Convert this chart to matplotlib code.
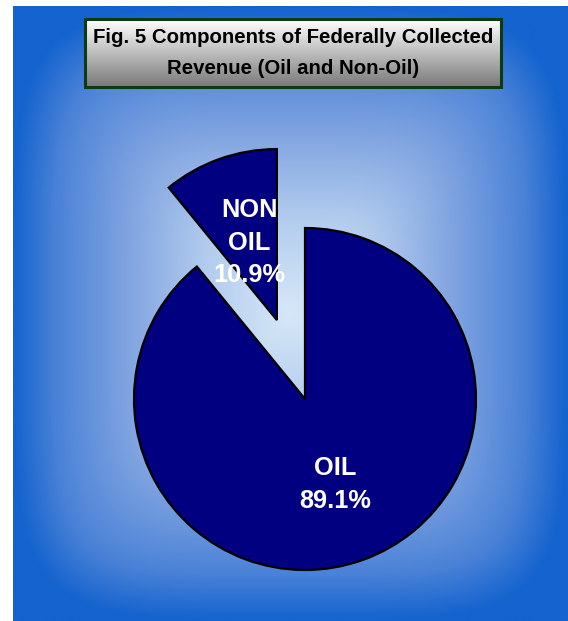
import numpy as np
import matplotlib
matplotlib.use("Agg")
import matplotlib.pyplot as plt
from matplotlib.colors import LinearSegmentedColormap
from matplotlib.patches import Rectangle

# ---- data ----
categories = ["NON\nOIL", "OIL"]
shares = [10.9, 89.1]
explode_frac = [0.49, 0.0]
title_text = "Fig. 5 Components of Federally Collected\nRevenue (Oil and Non-Oil)"

W, H = 568, 621
fig = plt.figure(figsize=(W / 100, H / 100), dpi=100)
fig.patch.set_facecolor("white")

ax = fig.add_axes([0, 0, 1, 1])
ax.set_xlim(0, W)
ax.set_ylim(0, H)
ax.axis("off")

# background panel: soft rectangular "from centre" gradient
x0, x1, ytop, ybot = 13, 568, 6, 621
cx, cy = (x0 + x1) / 2, (ytop + ybot) / 2
nx, ny = 400, 440
xs = np.linspace(x0, x1, nx)
ys = np.linspace(ytop, ybot, ny)
X, Y = np.meshgrid(xs, ys)
u = np.abs(X - cx) / ((x1 - x0) / 2)
v = np.abs(Y - cy) / ((ybot - ytop) / 2)
p = 5.0
t = np.clip((u ** p + v ** p) ** (1 / p), 0, 1)
bg_cmap = LinearSegmentedColormap.from_list(
    "bg",
    [(0.0, "#d6e7f7"), (0.3, "#b4cdee"), (0.6, "#7ea2e0"), (0.85, "#4a82d7"), (1.0, "#1463cf")],
)
ax.imshow(t, cmap=bg_cmap, vmin=0, vmax=1, extent=(x0, x1, H - ybot, H - ytop),
          origin="upper", aspect="auto", zorder=0, interpolation="bilinear")

# title box with vertical grey gradient
bx0, bx1, by0, by1 = 85, 501, 19, 87
grad = np.linspace(0, 1, 100).reshape(-1, 1)
box_cmap = LinearSegmentedColormap.from_list("box", ["#ffffff", "#7a7a7a"])
ax.imshow(grad, cmap=box_cmap, extent=(bx0, bx1, H - by1, H - by0), origin="upper",
          aspect="auto", zorder=2)
ax.add_patch(Rectangle((bx0, H - by1), bx1 - bx0, by1 - by0, fill=False,
                       edgecolor="#0d3a10", linewidth=2.2, zorder=3))
ax.text((bx0 + bx1) / 2, H - (by0 + by1) / 2, title_text, ha="center", va="center",
        fontsize=14.7, fontweight="bold", family="Liberation Sans", color="black",
        linespacing=1.75, zorder=4)

# pie
pcx, pcy, r = 305, H - 399, 171
wedges, _ = ax.pie(shares, explode=[e * r for e in explode_frac], startangle=90,
                   counterclock=True, center=(pcx, pcy), radius=r,
                   colors=["#000080", "#000080"],
                   wedgeprops=dict(edgecolor="black", linewidth=1.6), frame=True)
for w in wedges:
    w.set_zorder(5)

for w, cat, val, d in zip(wedges, categories, shares, [0.48, 0.53]):
    mid = np.deg2rad((w.theta1 + w.theta2) / 2)
    wx, wy = w.center
    tx = wx + d * r * np.cos(mid)
    ty = wy + d * r * np.sin(mid)
    ax.text(tx, ty, f"{cat}\n{val:.1f}%", ha="center", va="center", color="white",
            fontsize=18.3, fontweight="bold", family="Liberation Sans",
            linespacing=1.45, zorder=6)

ax.set_xlim(0, W)
ax.set_ylim(0, H)
ax.set_aspect("auto")
ax.axis("off")

fig.savefig("out.png", dpi=100)
